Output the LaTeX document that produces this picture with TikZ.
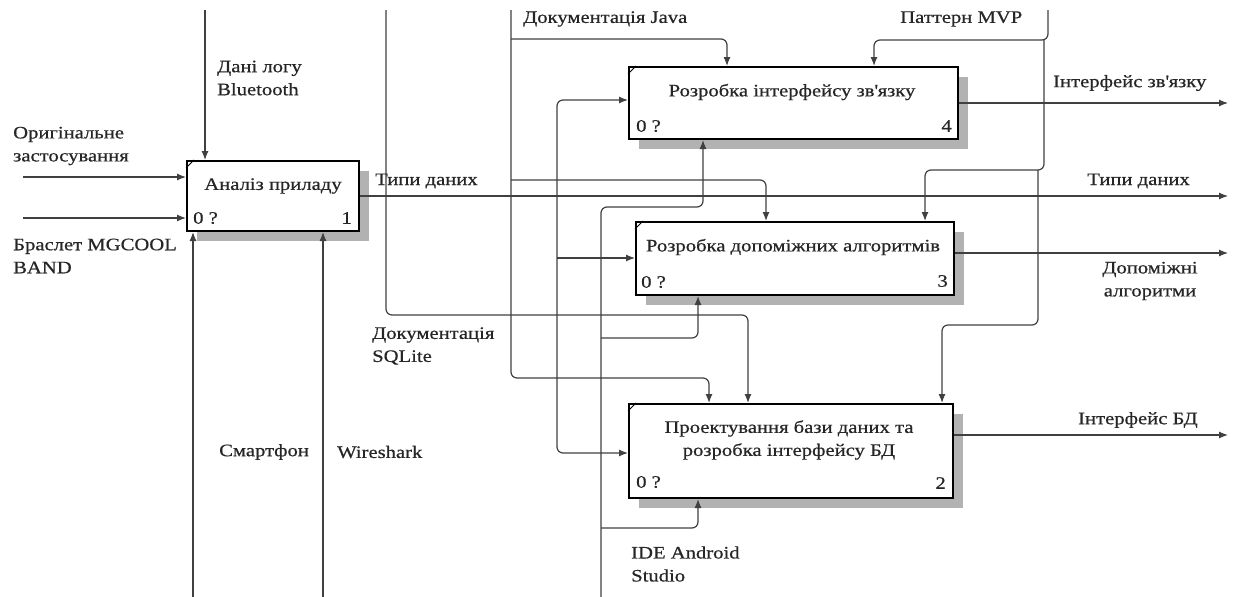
\documentclass[tikz,border=0pt]{standalone}
\usepackage{fontspec}
\setmainfont[FakeStretch=1.18,FakeBold=0.6]{Liberation Serif}
\usetikzlibrary{arrows.meta,shadows}
\begin{document}
\begin{tikzpicture}[x=1pt,y=-1pt,
  font=\fontsize{17.5}{23}\selectfont,
  box/.style={draw=black, line width=2pt, fill=white, inner sep=0pt,
    drop shadow={shadow xshift=10pt, shadow yshift=-10pt, fill=black!30, opacity=1}},
  conn/.style={draw=black!75, line width=1.2pt, rounded corners=6pt},
  arr/.style={conn, -{Latex[length=9pt,width=7pt]}},
  darr/.style={conn, {Latex[length=9pt,width=7pt]}-{Latex[length=9pt,width=7pt]}},
  lbl/.style={inner sep=0pt, anchor=west, align=left, text=black!85},
  ttl/.style={inner sep=0pt, align=center, text=black!85},
  cornermark/.style={line width=1pt}]
\useasboundingbox (0,0) rectangle (1235,597);

% boxes
\node[box, minimum width=172pt, minimum height=70pt] (b1) at (273,196) {};
\node[box, minimum width=329pt, minimum height=72pt] (b4) at (793.5,103) {};
\node[box, minimum width=318pt, minimum height=73pt] (b3) at (795,258.5) {};
\node[box, minimum width=324pt, minimum height=94pt] (b2) at (791,451) {};
\foreach \b in {b1,b2,b3,b4}{
  \draw[cornermark] ([yshift=-8pt]\b.north west) -- ([xshift=8pt]\b.north west);
}

% box texts
\node[ttl] (t1) at (273,186) {Аналіз приладу};
\node[lbl] (n1) at (193,218) {0 ?};
\node[lbl, anchor=east] (k1) at (352,218) {1};
\node[ttl] (t4) at (792,92) {Розробка інтерфейсу зв\textquotesingle язку};
\node[lbl] (n4) at (636,126) {0 ?};
\node[lbl, anchor=east] (k4) at (952,126) {4};
\node[ttl] (t3) at (793,247) {Розробка допоміжних алгоритмів};
\node[lbl] (n3) at (641,282) {0 ?};
\node[lbl, anchor=east] (k3) at (948,281) {3};
\node[ttl] (t2) at (789,440) {Проектування бази даних та\\розробка інтерфейсу БД};
\node[lbl] (n2) at (636,482) {0 ?};
\node[lbl, anchor=east] (k2) at (946,483) {2};

% free ends
\coordinate (inA) at (23,177);
\coordinate (inB) at (23,218);
\coordinate (ctlBT) at (205,10);
\coordinate (mS) at (193,597);
\coordinate (mW) at (323,597);
\coordinate (outT) at (1228,196);
\coordinate (sql) at (386,10);
\coordinate (j2) at (748,315);
\coordinate (java) at (511,10);
\coordinate (jb2) at (709,378);
\coordinate (jb4) at (727,39);
\coordinate (jb3) at (766,180);
\coordinate (mvp) at (1048,10);
\coordinate (mb4) at (874,40);
\coordinate (mv2) at (1044,40);
\coordinate (mb3) at (925,170);
\coordinate (mv3) at (1038,170);
\coordinate (mb2) at (942,325);
\coordinate (lt) at (557,100);
\coordinate (l3) at (557,258);
\coordinate (l2) at (557,453);
\coordinate (ide) at (601,597);
\coordinate (i2) at (698,528);
\coordinate (i3) at (698,338);
\coordinate (i4) at (703,207);
\coordinate (o4) at (1228,103);
\coordinate (o3) at (1228,253);
\coordinate (o2) at (1228,435);

% box 1 connectors
\draw[arr] (inA) -- (inA -| b1.west);
\draw[arr] (inB) -- (inB -| b1.west);
\draw[arr] (ctlBT) -- (ctlBT |- b1.north);
\draw[arr] (mS) -- (mS |- b1.south);
\draw[arr] (mW) -- (mW |- b1.south);
\draw[arr] (b1.east) -- (outT);

% SQLite
\draw[arr] (sql) |- (j2) -- (j2 |- b2.north);
% Java
\draw[arr] (java) |- (jb2) -- (jb2 |- b2.north);
\draw[arr] (java |- jb4) -| (jb4 |- b4.north);
\draw[arr] (java |- jb3) -| (jb3 |- b3.north);
% MVP
\draw[arr] (mvp) |- (mb4) -- (mb4 |- b4.north);
\draw[arr] (mv2) |- (mb3) -- (mb3 |- b3.north);
\draw[arr] (mv3) |- (mb2) -- (mb2 |- b2.north);
% internal inputs
\draw[darr] (lt -| b4.west) -- (lt) -- (l2) -- (l2 -| b2.west);
\draw[arr] (l3) -- (l3 -| b3.west);
% IDE
\draw[arr] (ide) |- (i4) -- (i4 |- b4.south);
\draw[arr] (ide |- i3) -| (i3 |- b3.south);
\draw[arr] (ide |- i2) -| (i2 |- b2.south);
% outputs
\draw[arr] (b4.east) -- (o4);
\draw[arr] (b3.east |- o3) -- (o3);
\draw[arr] (b2.east |- o2) -- (o2);

% labels
\node[lbl] (lBT) at (217,78) {Дані логу\\Bluetooth};
\node[lbl] (lOr) at (13,146) {Оригінальне\\застосування};
\node[lbl] (lBr) at (13,256) {Браслет MGCOOL\\BAND};
\node[lbl] (lSm) at (219,452) {Смартфон};
\node[lbl] (lWs) at (337,452) {Wireshark};
\node[lbl] (lT1) at (375,181) {Типи даних};
\node[lbl, anchor=east] (lT2) at (1190,181) {Типи даних};
\node[lbl] (lSQ) at (372,346) {Документація\\SQLite};
\node[lbl] (lJ) at (523,19) {Документація Java};
\node[lbl] (lMVP) at (900,19) {Паттерн MVP};
\node[lbl] (lIDE) at (631,564) {IDE Android\\Studio};
\node[lbl] (lO4) at (1053,83) {Інтерфейс зв\textquotesingle язку};
\node[ttl] (lO3) at (1150,281) {Допоміжні\\алгоритми};
\node[lbl] (lO2) at (1078,420) {Інтерфейс БД};
\end{tikzpicture}
\end{document}
